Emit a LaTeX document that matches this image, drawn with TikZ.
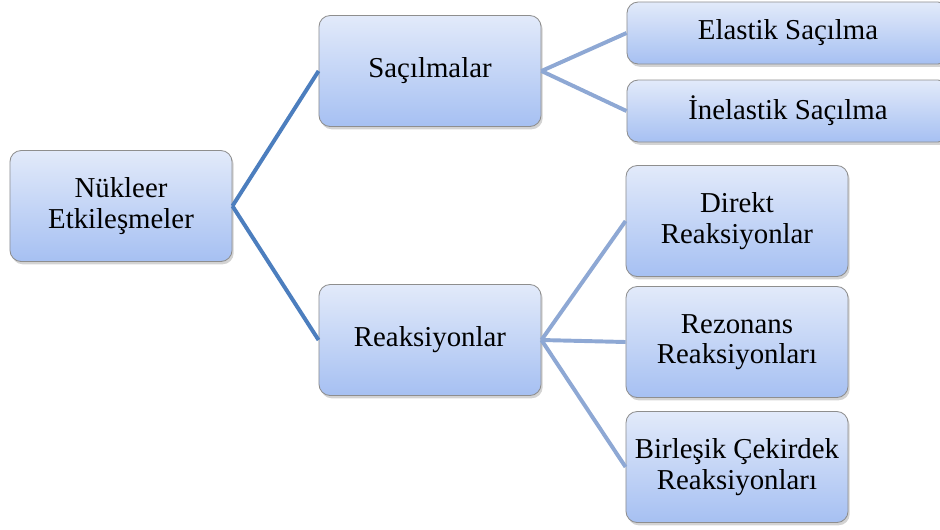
\documentclass[tikz,border=0pt]{standalone}
\usepackage{fontspec}
\setmainfont{Liberation Serif}
\usetikzlibrary{shadows}
\definecolor{boxtop}{HTML}{E2EAFA}
\definecolor{boxbot}{HTML}{A6C0F2}
\definecolor{boxline}{HTML}{8E8E8E}
\definecolor{linkdark}{HTML}{4C7EBE}
\definecolor{linklight}{HTML}{8EA8D4}
\begin{document}
\begin{tikzpicture}[x=0.025cm,y=-0.025cm,
    kutu/.style={draw=boxline,line width=0.6pt,rounded corners=8pt,top color=boxtop,bottom color=boxbot,
      drop shadow={opacity=0.35,shadow xshift=1.2pt,shadow yshift=-2pt},
      minimum width=5.55cm,minimum height=2.775cm,align=center,inner sep=2pt,
      font=\fontsize{20.5}{21.5}\selectfont},
    genis/.style={kutu,minimum width=8.05cm,minimum height=1.55cm},
    bag1/.style={draw=linkdark,line width=2.8pt},
    bag2/.style={draw=linklight,line width=2.8pt}]
        \useasboundingbox (0,0) rectangle (940,529);
        %% Root
        \node[kutu] (nukleer) at (121,206) {Nükleer\\Etkileşmeler};
        %% Level one
        \node[kutu] (sacilma) at (430,71) {Saçılmalar};
        \node[kutu] (reaksiyon) at (430,340) {Reaksiyonlar};
        %% Level two
        \node[genis] (elastik) at (788,33) {Elastik Saçılma};
        \node[genis] (inelastik) at (788,111) {İnelastik Saçılma};
        \node[kutu] (direkt) at (737,221) {Direkt\\Reaksiyonlar};
        \node[kutu] (rezonans) at (737,342) {Rezonans\\Reaksiyonları};
        \node[kutu] (birlesik) at (737,467) {Birleşik Çekirdek\\Reaksiyonları};
        %% Links
        \draw[bag1] (nukleer.east) -- (sacilma.west);
        \draw[bag1] (nukleer.east) -- (reaksiyon.west);
        \draw[bag2] (sacilma.east) -- (elastik.west);
        \draw[bag2] (sacilma.east) -- (inelastik.west);
        \draw[bag2] (reaksiyon.east) -- (direkt.west);
        \draw[bag2] (reaksiyon.east) -- (rezonans.west);
        \draw[bag2] (reaksiyon.east) -- (birlesik.west);
    \end{tikzpicture}
\end{document}
